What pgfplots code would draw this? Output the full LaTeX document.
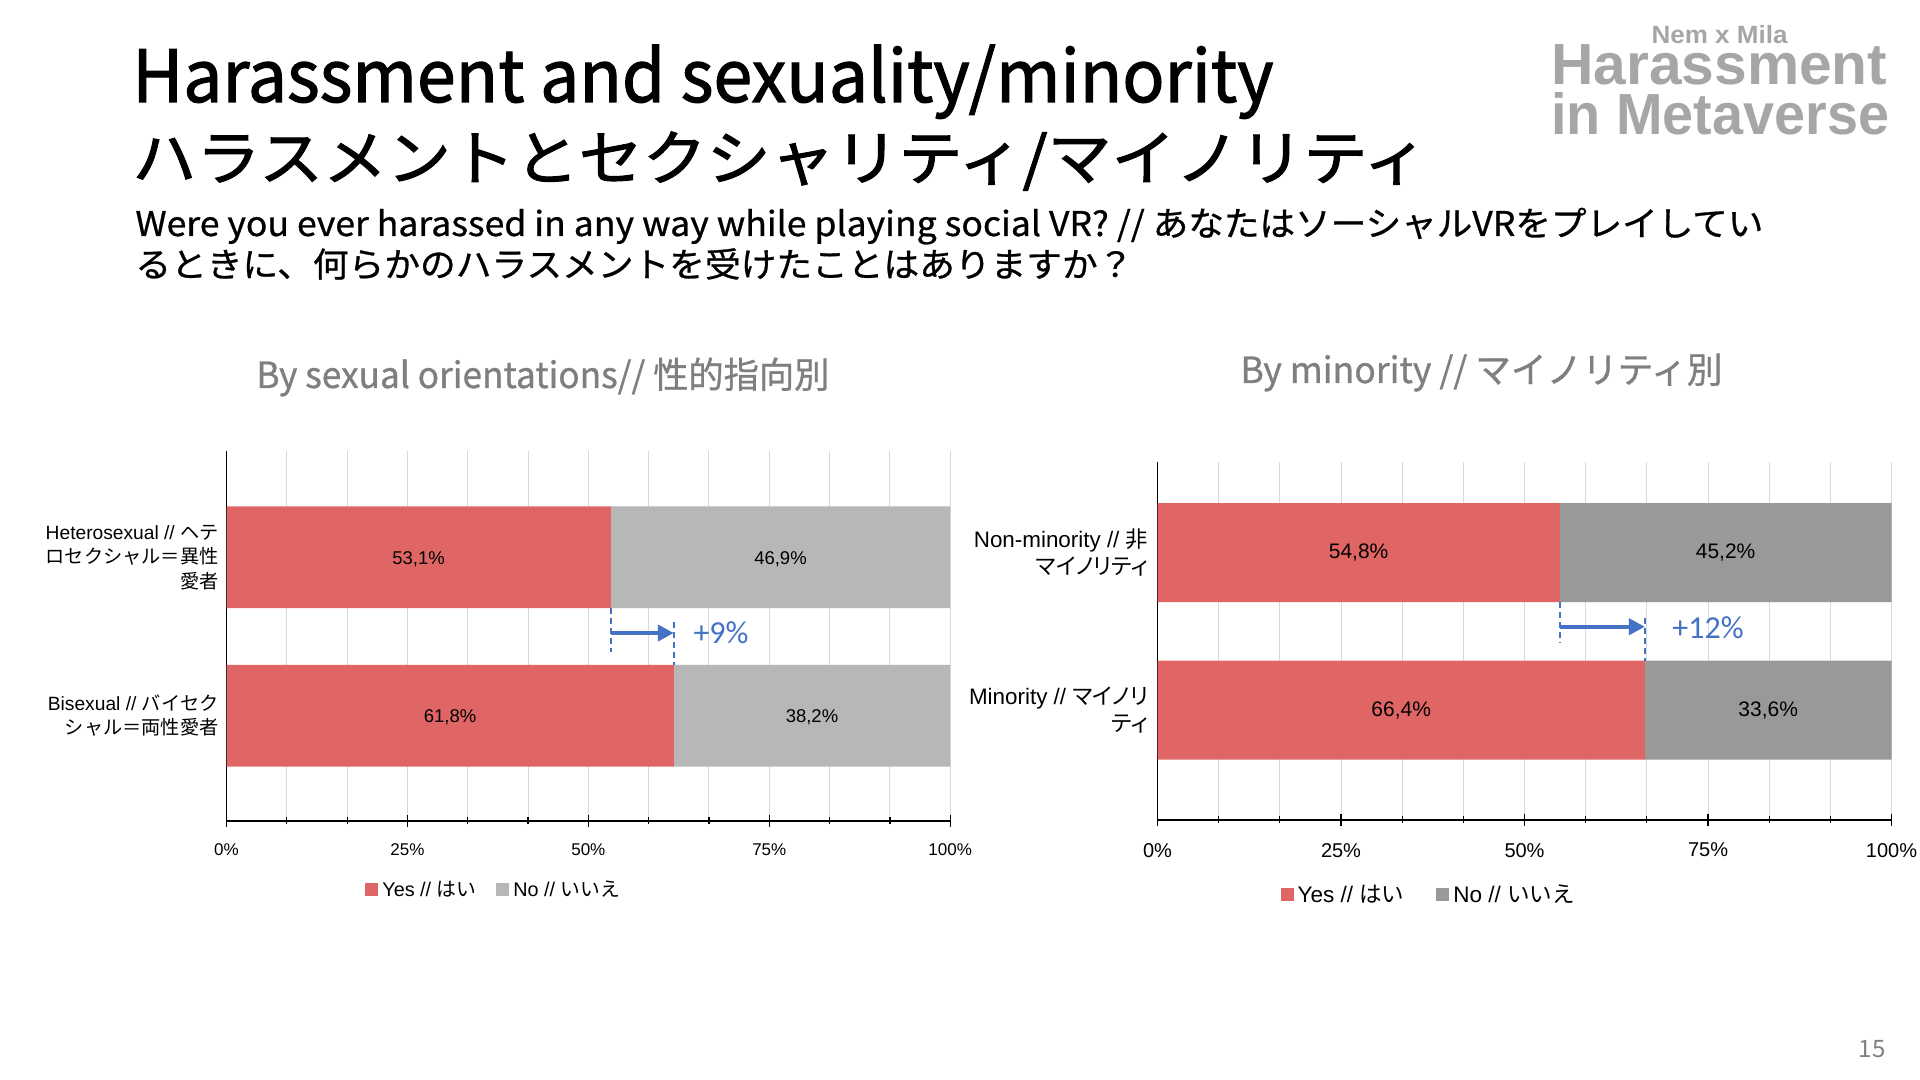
\documentclass[border=0pt]{standalone}
\usepackage{pgfplots}
\pgfplotsset{compat=1.18}
\usetikzlibrary{arrows.meta}
\usepackage{graphicx}
\usepackage{fontspec}
\setmainfont{Liberation Sans}
\newfontfamily\jp{Noto Sans CJK JP}
\newfontfamily\jpp[RawFeature=+palt]{Noto Sans CJK JP}
\newfontfamily\jpt[FakeBold=1.6]{Noto Sans CJK JP}
\newfontfamily\jps[FakeBold=0.8]{Noto Sans CJK JP}
\newfontfamily\calib{Carlito}
\definecolor{yesc}{HTML}{E06666}
\definecolor{noL}{HTML}{B7B7B7}
\definecolor{noR}{HTML}{999999}
\definecolor{gridc}{HTML}{D9D9D9}
\definecolor{ttl}{HTML}{7F7F7F}
\definecolor{logoc}{HTML}{A6A6A6}
\definecolor{arrowc}{HTML}{4472C4}
\newcommand\J[1]{{\jp #1}}
\newcommand\JP[1]{{\jpp #1}}
\newcommand\fs[2]{\fontsize{#1}{#2}\selectfont}
\pgfplotsset{
  barchart/.style={
    scale only axis, xbar stacked, xmin=0, xmax=100,
    axis x line*=bottom, axis y line*=left,
    axis line style={black, line width=0.6pt},
    xtick={0,25,50,75,100},
    minor xtick={8.3333,16.6667,33.3333,41.6667,58.3333,66.6667,83.3333,91.6667},
    xticklabels={0\%,25\%,50\%,75\%,100\%},
    xmajorgrids, xminorgrids,
    major grid style={gridc, line width=0.5pt},
    minor grid style={gridc, line width=0.5pt},
    tick align=center,
    major tick length=6pt, minor tick length=3.5pt,
    every tick/.style={black, line width=0.6pt},
    ytick={0,1}, y tick style={draw=none},
    yticklabel style={align=right, inner sep=0pt},
    clip=false,
    legend style={draw=none, fill=none, legend columns=2, anchor=center},
    legend image code/.code={\fill[##1] (0pt,-3.2pt) rectangle (6.5pt,3.3pt);},
  },
  overlay/.style={
    scale only axis, xmin=0, xmax=100, hide axis, clip=false,
  }
}
\begin{document}
\begin{tikzpicture}
\path[use as bounding box, fill=white] (0pt,0pt) rectangle (960pt,540pt);

% ---------- titles ----------
\node[anchor=base west, inner sep=0pt] at (66pt,489pt)
  {\resizebox{570.5pt}{\height}{\jpt\fs{36}{40}Harassment and sexuality/minority}};
\node[anchor=base west, inner sep=0pt] at (66pt,450pt)
  {\resizebox{647.5pt}{\height}{\jpt\fs{30}{34}ハラスメントとセクシャリティ/マイノリティ}};
\node[anchor=base west, inner sep=0pt] at (67.5pt,422pt)
  {\resizebox{814pt}{\height}{\jps\fs{17}{20}Were you ever harassed in any way while playing social VR? // あなたはソーシャルVRをプレイしてい}};
\node[anchor=base west, inner sep=0pt] at (67.5pt,401.5pt)
  {\resizebox{499pt}{\height}{\jps\fs{17}{20}るときに、何らかのハラスメントを受けたことはありますか？}};

% ---------- logo ----------
\node[anchor=base, inner sep=0pt, text=logoc] at (859.75pt,518pt)
  {\resizebox{68pt}{\height}{\bfseries\fs{12.5}{14}Nem x Mila}};
\node[anchor=base west, inner sep=0pt, text=logoc] at (775.5pt,497.5pt)
  {\resizebox{168pt}{\height}{\bfseries\fs{29}{30}Harassment}};
\node[anchor=base west, inner sep=0pt, text=logoc] at (775.5pt,472.5pt)
  {\resizebox{169pt}{\height}{\bfseries\fs{29}{30}in Metaverse}};

% ---------- chart titles ----------
\node[anchor=base west, inner sep=0pt, text=ttl] at (128pt,346pt)
  {\resizebox{286.5pt}{\height}{\jps\fs{18}{20}By sexual orientations// 性的指向別}};
\node[anchor=base west, inner sep=0pt, text=ttl] at (620pt,348.5pt)
  {\resizebox{241pt}{\height}{\jps\fs{18}{20}By minority // マイノリティ別}};

% page number
\node[anchor=base east, inner sep=0pt, text=ttl] at (943pt,11pt) {\jp\fs{12}{14}15};

% ---------- left chart ----------
\begin{axis}[barchart,
  at={(113.25pt,129.5pt)}, anchor=south west,
  width=361.85pt, height=185.2pt,
  ymin=-0.665, ymax=1.674, bar width=0.643,
  xticklabel style={font=\fs{8.5}{10}, yshift=-5pt},
  yticklabel style={font=\fs{9.6}{12.25}, xshift=-0.75pt},
  yticklabels={{Bisexual // \J{バイセク}\\\J{シャル＝両性愛者}},
               {Heterosexual // \J{ヘテ}\\\J{ロセクシャル＝異性}\\\J{愛者}}},
  legend style={at={(0.3706,-0.186)}, font=\fs{9.9}{11},
    /tikz/every even column/.append style={column sep=8pt}},
]
\addplot[fill=yesc, draw=none] coordinates {(53.1,1) (61.8,0)};
\addplot[fill=noL, draw=none] coordinates {(46.9,1) (38.2,0)};
\legend{{Yes // \J{はい}},{No // \J{いいえ}}}
\end{axis}
\begin{axis}[overlay,
  at={(113.25pt,129.5pt)}, anchor=south west,
  width=361.85pt, height=185.2pt,
  ymin=-0.665, ymax=1.674]
\addplot[draw=none, mark=none, nodes near coords, point meta=explicit symbolic,
  every node near coord/.append style={anchor=center, font=\fs{9.25}{10}, text=black}]
  coordinates {(26.55,0.99) [53,1\%] (76.55,0.99) [46,9\%] (30.9,-0.01) [61,8\%] (80.9,-0.01) [38,2\%]};
\draw[arrowc, line width=0.8pt, dash pattern=on 3pt off 2pt] (axis cs:53.1,0.6785) -- (axis cs:53.1,0.405);
\draw[arrowc, line width=0.8pt, dash pattern=on 3pt off 2pt] (axis cs:61.8,0.594) -- (axis cs:61.8,0.3215);
\draw[arrowc, line width=2.2pt, -{Triangle[length=8pt, width=8pt]}] (axis cs:53.1,0.522) -- (axis cs:61.8,0.522);
\node[text=arrowc, font=\calib\fs{16}{18}] at (axis cs:68.33,0.524) {+9\%};
\end{axis}

% ---------- right chart ----------
\begin{axis}[barchart,
  at={(578.75pt,130pt)}, anchor=south west,
  width=367pt, height=179.15pt,
  ymin=-0.698, ymax=1.577, bar width=0.629,
  xticklabel style={font=\fs{10}{11}, yshift=-5pt},
  yticklabel style={font=\fs{11.2}{13.5}, xshift=-1.5pt},
  yticklabels={{Minority // \JP{マイノリ}\\\JP{ティ}},
               {Non-minority // \JP{非}\\\JP{マイノリティ}}},
  legend style={at={(0.3707,-0.209)}, font=\fs{11.25}{12},
    /tikz/every even column/.append style={column sep=14pt}},
]
\addplot[fill=yesc, draw=none] coordinates {(54.8,1) (66.4,0)};
\addplot[fill=noR, draw=none] coordinates {(45.2,1) (33.6,0)};
\legend{{Yes // \J{はい}},{No // \J{いいえ}}}
\end{axis}
\begin{axis}[overlay,
  at={(578.75pt,130pt)}, anchor=south west,
  width=367pt, height=179.15pt,
  ymin=-0.698, ymax=1.577]
\addplot[draw=none, mark=none, nodes near coords, point meta=explicit symbolic,
  every node near coord/.append style={anchor=center, font=\fs{10.5}{11}, text=black}]
  coordinates {(27.4,1) [54,8\%] (77.4,1) [45,2\%] (33.2,0) [66,4\%] (83.2,0) [33,6\%]};
\draw[arrowc, line width=0.8pt, dash pattern=on 3pt off 2pt] (axis cs:54.8,0.686) -- (axis cs:54.8,0.423);
\draw[arrowc, line width=0.8pt, dash pattern=on 3pt off 2pt] (axis cs:66.4,0.584) -- (axis cs:66.4,0.3145);
\draw[arrowc, line width=2.2pt, -{Triangle[length=8pt, width=8pt]}] (axis cs:54.8,0.529) -- (axis cs:66.4,0.529);
\node[text=arrowc, font=\calib\fs{16}{18}] at (axis cs:75.0,0.52) {+12\%};
\end{axis}
\end{tikzpicture}
\end{document}
